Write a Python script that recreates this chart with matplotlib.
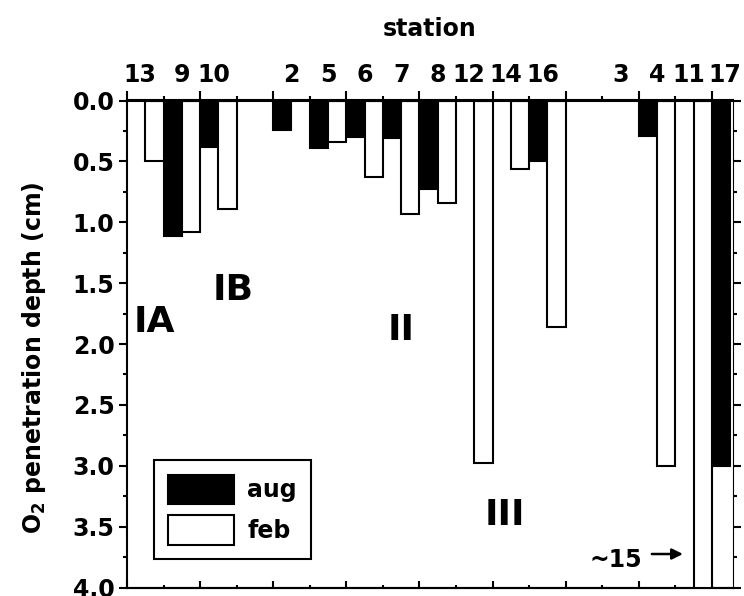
import numpy as np
import matplotlib
matplotlib.use("Agg")
import matplotlib.pyplot as plt
from matplotlib.ticker import MultipleLocator, FormatStrFormatter, NullLocator
from matplotlib.transforms import ScaledTranslation

plt.rcParams["font.family"] = "DejaVu Sans"
plt.rcParams["font.weight"] = "bold"
plt.rcParams["axes.labelweight"] = "bold"
plt.rcParams["mathtext.fontset"] = "custom"
plt.rcParams["mathtext.rm"] = "DejaVu Sans:bold"

nan = np.nan

# Stations in plotting order; empty strings are spacer slots between regions
stations = ["13", "9", "10", "", "2", "5", "6", "7", "8", "12", "14", "16",
            "", "3", "4", "11", "17"]
# O2 penetration depth (cm), August and February campaigns
aug = [nan, 1.11, 0.38, nan, 0.24, 0.39, 0.30, 0.31, 0.73, nan, nan, 0.50,
       nan, nan, 0.29, nan, 3.00]
feb = [0.50, 1.08, 0.89, nan, nan, 0.34, 0.63, 0.93, 0.84, 2.98, 0.56, 1.86,
       nan, nan, 3.00, 15.0, nan]
# Region labels: (text, slot position, depth of baseline)
regions = [("IA", 0.74, 1.90), ("IB", 2.90, 1.64), ("II", 7.50, 1.97),
           ("III", 10.34, 3.49)]

slot = np.arange(len(stations))
fs = 17

fig = plt.figure(figsize=(7.44, 5.96), dpi=100)
ax = fig.add_axes([127 / 744, 1 - 587.5 / 596, 606 / 744, 487 / 596])

ax.bar(slot + 0.25, aug, width=0.5, color="black", edgecolor="black",
       linewidth=1.5, label="aug")
ax.bar(slot + 0.75, feb, width=0.5, color="white", edgecolor="black",
       linewidth=1.5, label="feb")

ax.set_xlim(0, 16.58)
ax.set_ylim(4, 0)

for s in ax.spines.values():
    s.set_linewidth(1.5)
ax.spines["right"].set_linewidth(0.8)

# y axis: ticks outward on both sides
ax.yaxis.set_major_locator(MultipleLocator(0.5))
ax.yaxis.set_minor_locator(MultipleLocator(0.25))
ax.yaxis.set_major_formatter(FormatStrFormatter("%.1f"))
ax.tick_params(axis="y", which="both", direction="out", left=True, right=True,
               width=1.5, labelsize=fs, pad=3)
ax.tick_params(axis="y", which="major", length=6)
ax.tick_params(axis="y", which="minor", length=3)

# x axis: outward ticks on top
ax.xaxis.set_major_locator(MultipleLocator(2))
ax.xaxis.set_minor_locator(MultipleLocator(1))
ax.tick_params(axis="x", which="both", direction="out", top=True, bottom=False,
               labeltop=False, labelbottom=False, width=1.5)
ax.tick_params(axis="x", which="major", length=7)
ax.tick_params(axis="x", which="minor", length=3.5)

# bottom axis: inward ticks, no labels
bot = ax.secondary_xaxis("bottom")
bot.xaxis.set_major_locator(MultipleLocator(2))
bot.xaxis.set_minor_locator(MultipleLocator(1))
bot.tick_params(axis="x", which="both", direction="in", width=1.5,
                labelbottom=False)
bot.tick_params(axis="x", which="major", length=5)
bot.tick_params(axis="x", which="minor", length=2.5)
bot.spines["bottom"].set_linewidth(1.5)

# station names along the top
top = ax.secondary_xaxis("top")
pos = [p + 0.5 for p, s in zip(slot, stations) if s]
names = [s for s in stations if s]
top.set_xticks(pos, names)
top.xaxis.set_minor_locator(NullLocator())
top.tick_params(axis="x", which="both", length=0, pad=9.4, labelsize=fs)
top.spines["top"].set_linewidth(1.5)
# two-digit names sit slightly left of their pair
nudge = ScaledTranslation(-5 / 100, 0, fig.dpi_scale_trans)
for lbl in top.get_xticklabels():
    if len(lbl.get_text()) > 1:
        lbl.set_transform(lbl.get_transform() + nudge)

fig.text(430 / 744, 1 - 36 / 596, "station", fontsize=fs, ha="center",
         va="baseline")

ax.set_ylabel(r"$\mathrm{O_2}$ penetration depth (cm)", fontsize=fs)
ax.yaxis.set_label_coords(-0.131, 0.471)

for txt, xpos, ypos in regions:
    ax.text(xpos, ypos, txt, fontsize=26, ha="center", va="baseline")

# off-scale value for station 11 in February
i11 = stations.index("11")
ax.text(14.09, 3.83, f"~{feb[i11]:.0f}", fontsize=fs, ha="right", va="baseline")
ax.annotate("", xy=(15.21, 3.725), xytext=(14.36, 3.725),
            arrowprops=dict(arrowstyle="-|>", color="black", lw=1.8,
                            mutation_scale=16, shrinkA=0, shrinkB=0))

leg = ax.legend(loc="lower left", bbox_to_anchor=(0.0446, 0.0585),
                borderaxespad=0, fontsize=fs, handlelength=2.8,
                handleheight=1.55, labelspacing=0.47, handletextpad=0.55,
                borderpad=0.6, fancybox=False, framealpha=1,
                edgecolor="black")
leg.get_frame().set_linewidth(1.5)

fig.savefig("out.png", dpi=100)
